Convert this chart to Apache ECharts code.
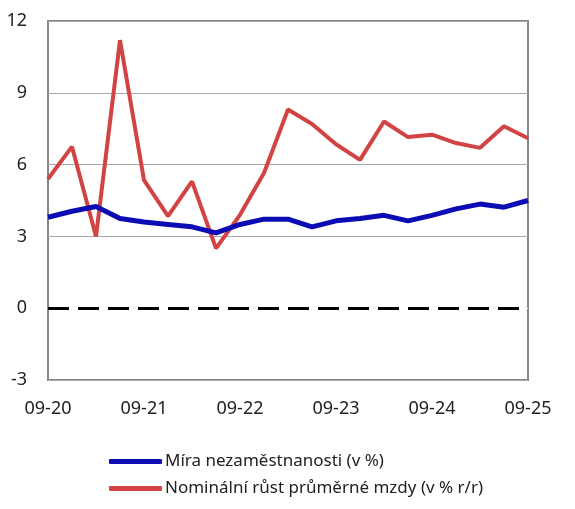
<!DOCTYPE html>
<html>
<head>
<meta charset="utf-8">
<script src="https://cdn.jsdelivr.net/npm/echarts@6/dist/echarts.min.js"></script>
<style>
  html, body { margin: 0; padding: 0; background: #fff; }
  #chart { width: 575px; height: 509px; }
</style>
</head>
<body>
<div id="chart"></div>
<script>
// ctvrtletni data 09-20 .. 09-25
var quarters = ["09-20","12-20","03-21","06-21","09-21","12-21","03-22","06-22","09-22","12-22",
                "03-23","06-23","09-23","12-23","03-24","06-24","09-24","12-24","03-25","06-25","09-25"];
var unemployment = [3.8, 4.05, 4.25, 3.75, 3.6, 3.5, 3.4, 3.15, 3.5, 3.72, 3.72,
                    3.4, 3.65, 3.75, 3.88, 3.65, 3.88, 4.15, 4.35, 4.22, 4.5];
var wageGrowth = [5.4, 6.75, 3.0, 11.2, 5.35, 3.85, 5.3, 2.5, 3.9, 5.65, 8.3,
                  7.7, 6.85, 6.2, 7.8, 7.15, 7.25, 6.9, 6.7, 7.6, 7.1];
var yTicks = { min: -3, max: 12, interval: 3 };
var seriesNames = ["Míra nezaměstnanosti (v %)", "Nominální růst průměrné mzdy (v % r/r)"];

var fontName = "Noto Sans";
var myChart = echarts.init(document.getElementById("chart"));
var option = {
    animation: false,
    backgroundColor: "#fff",
    textStyle: { fontFamily: fontName },
    grid: {
        left: 48, right: 47, top: 21, bottom: 129,
        show: true, borderColor: "#858585", borderWidth: 2
    },
    legend: {
        orient: "vertical",
        left: 109, top: 453,
        padding: 0,
        itemWidth: 53, itemHeight: 5, itemGap: 10,
        icon: "roundRect",
        textStyle: { fontFamily: fontName, fontSize: 17, color: "#222", padding: [0, 0, 0, -2] },
        data: seriesNames
    },
    xAxis: {
        type: "category",
        data: quarters,
        boundaryGap: false,
        axisLine: { show: false },
        axisTick: { show: false },
        axisLabel: { interval: 3, margin: 20, fontSize: 18, color: "#222", fontFamily: fontName },
        splitLine: { show: false }
    },
    yAxis: {
        type: "value",
        min: yTicks.min, max: yTicks.max, interval: yTicks.interval,
        axisLine: { show: false },
        axisTick: { show: false },
        axisLabel: { margin: 21, fontSize: 18, color: "#222", fontFamily: fontName },
        splitLine: { show: true, lineStyle: { color: ["#a8a8a8", "#ffffff", "#a8a8a8", "#a8a8a8", "#a8a8a8", "#a8a8a8"], width: 1 } }
    },
    series: [
        {
            name: seriesNames[0],
            type: "line",
            data: unemployment,
            showSymbol: false,
            symbol: "none",
            z: 3,
            lineStyle: { color: "#0c0cb4", width: 5 },
            itemStyle: { color: "#0c0cb4" },
            markLine: {
                silent: true,
                symbol: "none",
                label: { show: false },
                lineStyle: { color: "#000", width: 3, type: [21, 9] },
                data: [{ yAxis: 0 }]
            }
        },
        {
            name: seriesNames[1],
            type: "line",
            data: wageGrowth,
            showSymbol: false,
            symbol: "none",
            z: 2,
            lineStyle: { color: "#d24444", width: 4 },
            itemStyle: { color: "#d24444" }
        }
    ]
};
myChart.setOption(option);
</script>
</body>
</html>
